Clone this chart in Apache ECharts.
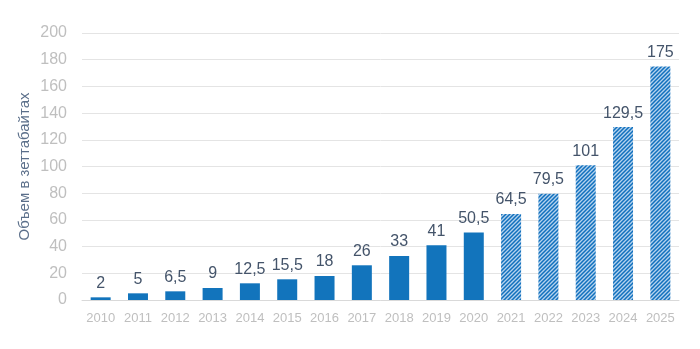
<!DOCTYPE html>
<html><head><meta charset="utf-8">
<script src="https://cdn.jsdelivr.net/npm/echarts@6/dist/echarts.min.js"></script>
<style>html,body{margin:0;padding:0;background:#fff}#c{width:700px;height:349px}</style>
</head><body><div id="c"></div>
<script>
const years = ['2010','2011','2012','2013','2014','2015','2016','2017','2018','2019','2020','2021','2022','2023','2024','2025'];
const values = [2,5,6.5,9,12.5,15.5,18,26,33,41,50.5,64.5,79.5,101,129.5,175];
const forecastFrom = 11;
const yTicks = {min:0, max:200, interval:20};
const yName = 'Объем в зеттабайтах';

function makePattern(){
  const c = document.createElement('canvas');
  c.width = 4; c.height = 4;
  const g = c.getContext('2d');
  g.fillStyle = '#b4d2ee'; g.fillRect(0,0,4,4);
  g.strokeStyle = '#1070bd'; g.lineWidth = 1.5;
  g.beginPath();
  g.moveTo(-1,5); g.lineTo(5,-1);
  g.moveTo(-1,1); g.lineTo(1,-1);
  g.moveTo(3,5); g.lineTo(5,3);
  g.stroke();
  return c;
}
const pat = {image: makePattern(), repeat: 'repeat'};
const data = values.map((v,i)=> i>=forecastFrom ? {value:v, itemStyle:{color:pat}} : {value:v});

const chart = echarts.init(document.getElementById('c'));
chart.setOption({
  animation:false,
  grid:{left:82, right:21, top:33, bottom:49},
  xAxis:{type:'category', data:years,
    axisLine:{lineStyle:{color:'#d9d9d9', width:1}}, axisTick:{show:false},
    axisLabel:{interval:0, color:'#bfbfbf', fontSize:13, fontFamily:'Liberation Sans', margin:12}},
  yAxis:{type:'value', min:yTicks.min, max:yTicks.max, interval:yTicks.interval,
    name:yName, nameLocation:'middle', nameGap:50, nameRotate:90, nameMoveOverlap:false,
    nameTextStyle:{color:'#5b6f8a', fontSize:15, fontFamily:'Liberation Sans'},
    axisLine:{show:false}, axisTick:{show:false},
    splitLine:{lineStyle:{color:'#e4e4e4'}},
    axisLabel:{color:'#bfbfbf', fontSize:16, fontFamily:'Liberation Sans', margin:15}},
  series:[{type:'bar', data:data, barWidth:20,
    itemStyle:{color:'#1274bc'},
    label:{show:true, position:'top', distance:6, color:'#44546a', fontSize:16, fontFamily:'Liberation Sans',
      formatter:p=>String(p.value).replace('.',',')}}]
});
</script></body></html>
